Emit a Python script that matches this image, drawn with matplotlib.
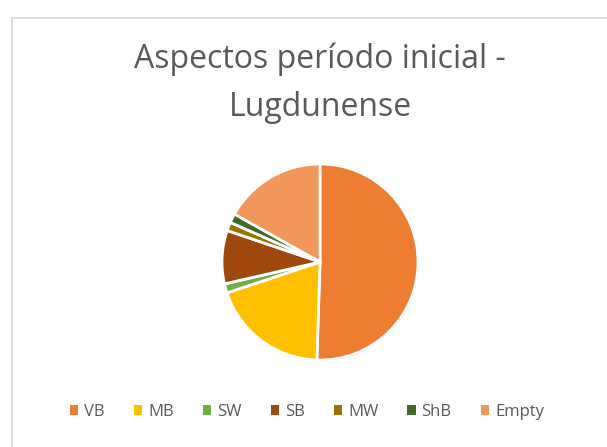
import matplotlib.pyplot as plt
from matplotlib.lines import Line2D

# category shares (percent)
labels = ["VB", "MB", "SW", "SB", "MW", "ShB", "Empty"]
values = [50.0, 19.2, 1.5, 8.7, 1.4, 1.5, 16.7]
colors = ["#ED7D31", "#FFC000", "#70AD47", "#9E480E", "#997300", "#43682B", "#F1975A"]

title = "Aspectos período inicial -\nLugdunense"

W, H = 607, 447
fig = plt.figure(figsize=(W / 100, H / 100), dpi=100)
fig.patch.set_facecolor("white")

# light chart border (only top/left edge visible in the crop)
bx, by = 11.5 / W, 1 - 17.5 / H
fig.add_artist(Line2D([bx, 1.0], [by, by], transform=fig.transFigure, color="#D9D9D9", lw=1.3))
fig.add_artist(Line2D([bx, bx], [0, by], transform=fig.transFigure, color="#D9D9D9", lw=1.3))

fig.text(320 / W, 1 - 83 / H, title, ha="center", va="center", fontsize=23,
         color="#595959", family="Open Sans", linespacing=1.6)

cx, cy, r = 320, 262, 100
ax = fig.add_axes([(cx - r) / W, (H - cy - r) / H, 2 * r / W, 2 * r / H])
wedges, _ = ax.pie(values, colors=colors, startangle=90, counterclock=False,
                   wedgeprops=dict(edgecolor="white", linewidth=2))
ax.set_xlim(-1.02, 1.02)
ax.set_ylim(-1.02, 1.02)
ax.set_aspect("equal")
ax.axis("off")

leg = fig.legend(wedges, labels, loc="center", bbox_to_anchor=(307 / W, 1 - 412 / H),
                 ncol=7, frameon=False, handlelength=0.5, handleheight=0.5,
                 handletextpad=0.35, columnspacing=1.75,
                 prop=dict(family="Open Sans", size=12))
for t in leg.get_texts():
    t.set_color("#595959")
for h in leg.legend_handles:
    h.set_linewidth(0)

fig.savefig("out.png", dpi=100)
